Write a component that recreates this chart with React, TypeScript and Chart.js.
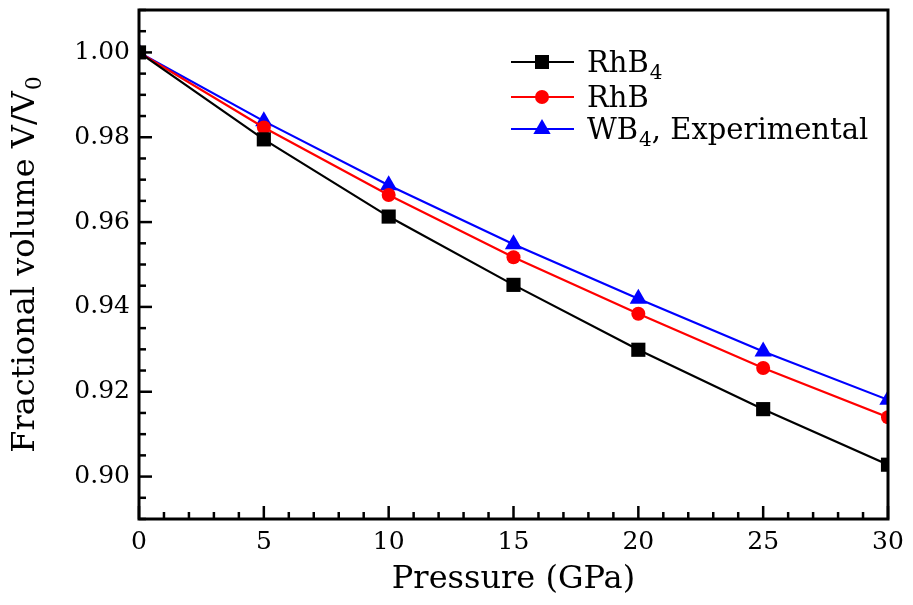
import React, { useEffect, useRef } from "react";
import { Chart, registerables } from "chart.js";

Chart.register(...registerables);

const pressure = [0, 5, 10, 15, 20, 25, 30];
const rhb4 = [1.0, 0.9795, 0.9613, 0.9452, 0.9299, 0.9159, 0.9028];
const rhb = [1.0, 0.9823, 0.9664, 0.9517, 0.9384, 0.9256, 0.914];
const wb4 = [1.0, 0.9838, 0.9687, 0.9548, 0.9419, 0.9295, 0.9181];

const xMajorTicks = [0, 5, 10, 15, 20, 25, 30];
const yMajorTicks = [0.9, 0.92, 0.94, 0.96, 0.98, 1.0];
const xMinorStep = 1;
const yMinorStep = 0.005;

const seriesNames = ["RhB", "RhB", "WB"];
const seriesSubs = ["4", "", "4"];
const seriesSuffix = ["", "", ", Experimental"];
const seriesColors = ["#000000", "#ff0000", "#0000ff"];
const seriesShapes = ["rect", "circle", "triangle"];

const FONT = "'DejaVu Serif', serif";

function drawShape(ctx: CanvasRenderingContext2D, shape: string, x: number, y: number, color: string) {
  ctx.fillStyle = color;
  ctx.beginPath();
  if (shape === "rect") {
    ctx.rect(x - 7, y - 7, 14, 14);
  } else if (shape === "circle") {
    ctx.arc(x, y, 7, 0, Math.PI * 2);
  } else {
    const r = 10;
    ctx.moveTo(x, y - r);
    ctx.lineTo(x + r * 0.866, y + r / 2);
    ctx.lineTo(x - r * 0.866, y + r / 2);
    ctx.closePath();
  }
  ctx.fill();
}

const framePlugin = {
  id: "frameTicks",
  afterDraw(chart: any) {
    const { ctx, chartArea, scales } = chart;
    const { left, right, top, bottom } = chartArea;
    const xs = scales.x;
    const ys = scales.y;
    ctx.save();
    ctx.strokeStyle = "#000";
    ctx.lineWidth = 2.5;
    for (let v = xs.min; v <= xs.max + 1e-9; v += xMinorStep) {
      const px = xs.getPixelForValue(v);
      const major = xMajorTicks.some((t) => Math.abs(t - v) < 1e-9);
      const len = major ? 13 : 7;
      ctx.beginPath();
      ctx.moveTo(px, bottom);
      ctx.lineTo(px, bottom - len);
      ctx.stroke();
    }
    const kMin = Math.ceil(ys.min / yMinorStep - 1e-6);
    const kMax = Math.floor(ys.max / yMinorStep + 1e-6);
    for (let k = kMin; k <= kMax; k++) {
      const v = k * yMinorStep;
      const py = ys.getPixelForValue(v);
      const major = yMajorTicks.some((t) => Math.abs(t - v) < 1e-6);
      const len = major ? 13 : 7;
      ctx.beginPath();
      ctx.moveTo(left, py);
      ctx.lineTo(left + len, py);
      ctx.stroke();
    }
    ctx.lineWidth = 3;
    ctx.strokeRect(left, top, right - left, bottom - top);

    // legend
    const rowsY = [62, 97, 129];
    for (let i = 0; i < 3; i++) {
      const yy = rowsY[i];
      ctx.strokeStyle = seriesColors[i];
      ctx.lineWidth = 2;
      ctx.beginPath();
      ctx.moveTo(511, yy);
      ctx.lineTo(574, yy);
      ctx.stroke();
      drawShape(ctx, seriesShapes[i], 542, yy, seriesColors[i]);
      ctx.fillStyle = "#000";
      ctx.textBaseline = "alphabetic";
      ctx.textAlign = "left";
      ctx.font = `29px ${FONT}`;
      let tx = 587;
      const base = yy + 10;
      ctx.fillText(seriesNames[i], tx, base);
      tx += ctx.measureText(seriesNames[i]).width;
      if (seriesSubs[i]) {
        ctx.font = `20px ${FONT}`;
        ctx.fillText(seriesSubs[i], tx + 1, base + 7);
        tx += ctx.measureText(seriesSubs[i]).width + 1;
      }
      if (seriesSuffix[i]) {
        ctx.font = `29px ${FONT}`;
        ctx.fillText(seriesSuffix[i], tx, base);
      }
    }

    // x title
    ctx.fillStyle = "#000";
    ctx.font = `32px ${FONT}`;
    ctx.textAlign = "center";
    ctx.textBaseline = "alphabetic";
    ctx.fillText("Pressure (GPa)", (left + right) / 2, 588);

    // y title
    ctx.save();
    ctx.translate(34, (top + bottom) / 2);
    ctx.rotate(-Math.PI / 2);
    const main = "Fractional volume V/V";
    const sub = "0";
    ctx.font = `32px ${FONT}`;
    const wMain = ctx.measureText(main).width;
    ctx.font = `22px ${FONT}`;
    const wSub = ctx.measureText(sub).width;
    const total = wMain + wSub + 1;
    ctx.textAlign = "left";
    ctx.font = `32px ${FONT}`;
    ctx.fillText(main, -total / 2, 0);
    ctx.font = `22px ${FONT}`;
    ctx.fillText(sub, -total / 2 + wMain + 1, 7);
    ctx.restore();

    ctx.restore();
  },
};

export default function App() {
  const canvasRef = useRef<HTMLCanvasElement | null>(null);

  useEffect(() => {
    document.body.style.margin = "0";
    const canvas = canvasRef.current;
    if (!canvas) return;
    const mk = (label: string, data: number[], color: string, shape: string, radius: number) => ({
      label,
      data: pressure.map((p, i) => ({ x: p, y: data[i] })),
      borderColor: color,
      backgroundColor: color,
      borderWidth: 2.2,
      pointStyle: shape,
      pointRadius: radius,
      pointBorderWidth: 0,
      pointBackgroundColor: color,
      tension: 0,
      clip: 0,
    });
    const chart = new Chart(canvas, {
      type: "line",
      data: {
        datasets: [
          mk("RhB4", rhb4, seriesColors[0], "rect", 10),
          mk("RhB", rhb, seriesColors[1], "circle", 7),
          mk("WB4, Experimental", wb4, seriesColors[2], "triangle", 10),
        ],
      },
      options: {
        responsive: false,
        animation: false,
        devicePixelRatio: 1,
        layout: { padding: { top: 10, right: 25, left: 0, bottom: 0 } },
        plugins: { legend: { display: false }, tooltip: { enabled: false } },
        scales: {
          x: {
            type: "linear",
            min: 0,
            max: 30,
            grid: { display: false, drawTicks: false },
            border: { display: false },
            afterBuildTicks: (scale: any) => {
              scale.ticks = xMajorTicks.map((value) => ({ value }));
            },
            afterFit: (scale: any) => {
              scale.height = 86;
              scale.paddingLeft = 0;
              scale.paddingRight = 0;
            },
            ticks: {
              padding: 8,
              color: "#000",
              font: { family: FONT, size: 25 },
              maxRotation: 0,
              callback: (v: any) => String(v),
            },
          },
          y: {
            type: "linear",
            min: 0.89,
            max: 1.01,
            grid: { display: false, drawTicks: false },
            border: { display: false },
            afterBuildTicks: (scale: any) => {
              scale.ticks = yMajorTicks.map((value) => ({ value }));
            },
            afterFit: (scale: any) => {
              scale.width = 139;
              scale.paddingTop = 0;
              scale.paddingBottom = 0;
            },
            ticks: {
              padding: 9,
              color: "#000",
              font: { family: FONT, size: 25 },
              callback: (v: any) => Number(v).toFixed(2),
            },
          },
        },
      } as any,
      plugins: [framePlugin],
    });
    return () => chart.destroy();
  }, []);

  return (
    <div style={{ position: "fixed", left: 0, top: 0, width: 913, height: 605, background: "#fff" }}>
      <canvas ref={canvasRef} width={913} height={605} style={{ width: 913, height: 605, display: "block" }} />
    </div>
  );
}
